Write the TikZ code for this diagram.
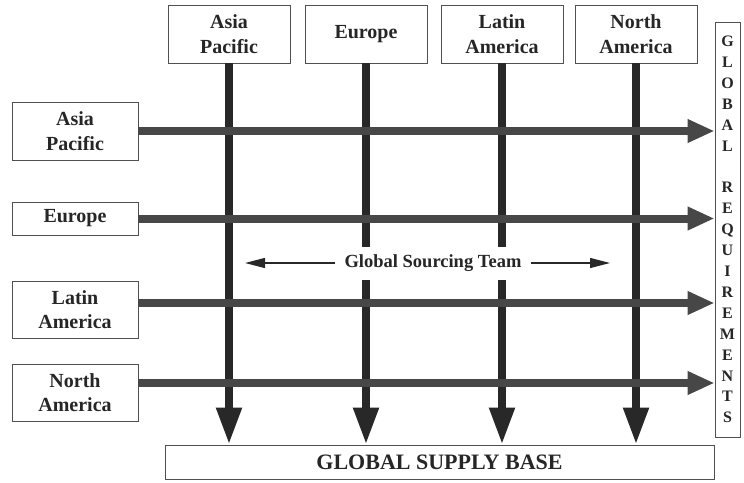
\documentclass[tikz,border=0pt]{standalone}
\usepackage{fontspec}
\setmainfont{Liberation Serif}
\usetikzlibrary{arrows.meta}
\definecolor{vdark}{HTML}{282828}
\definecolor{hgray}{HTML}{474747}
\definecolor{boxline}{HTML}{505050}
\definecolor{txt}{HTML}{262626}
\begin{document}
\begin{tikzpicture}[x=1pt,y=-1pt,
  lbl/.style={draw=boxline, line width=0.9pt, fill=white, text=txt,
    font=\bfseries\fontsize{20}{24.5}\selectfont, align=center, inner sep=0pt},
  grlbl/.style={lbl, font=\bfseries\fontsize{16}{20.9}\selectfont},
  varrow/.style={draw=vdark, line width=8pt, -{Triangle[length=37pt,width=24pt]}},
  harrow/.style={draw=hgray, line width=8pt, -{Triangle[length=27pt,width=22pt]}},
  thinarrow/.style={draw=vdark, line width=1.3pt, -{Triangle[length=20pt,width=10pt]}}]
\useasboundingbox (0,0) rectangle (744,482);
% top regions
\node[lbl, minimum width=122pt, minimum height=58pt] (tap) at (229,34) {Asia\\Pacific};
\node[lbl, minimum width=122pt, minimum height=58pt] (teu) at (366,34) {Europe};
\node[lbl, minimum width=122pt, minimum height=58pt] (tla) at (502,34) {Latin\\America};
\node[lbl, minimum width=122pt, minimum height=58pt] (tna) at (636,34) {North\\America};
% left regions
\node[lbl, minimum width=126pt, minimum height=58pt] (lap) at (75,131) {Asia\\Pacific};
\node[lbl, minimum width=126pt, minimum height=33pt] (leu) at (75,218.5) {Europe};
\node[lbl, minimum width=126pt, minimum height=57pt] (lla) at (75,309.5) {Latin\\America};
\node[lbl, minimum width=126pt, minimum height=57pt] (lna) at (75,392.5) {North\\America};
% right and bottom
\node[grlbl, minimum width=25pt, minimum height=415pt] (gr) at (727.5,229.5)
  {G\\L\\O\\B\\A\\L\\[20.9pt]R\\E\\Q\\U\\I\\R\\E\\M\\E\\N\\T\\S};
\node[lbl, minimum width=549pt, minimum height=34pt, font=\bfseries\fontsize{22}{26}\selectfont] (gsb) at (439.5,462) {GLOBAL SUPPLY BASE};
% vertical arrows
\draw[varrow] (tap.south) -- (tap.south |- gsb.north);
\draw[varrow] (teu.south) -- (teu.south |- gsb.north);
\draw[varrow] (tla.south) -- (tla.south |- gsb.north);
\draw[varrow] (tna.south) -- (tna.south |- gsb.north);
% horizontal arrows
\draw[harrow] (lap.east) -- (lap.east -| gr.west);
\draw[harrow] (leu.east) -- (leu.east -| gr.west);
\draw[harrow] ([yshift=6.5pt]lla.east) -- ([yshift=6.5pt]lla.east -| gr.west);
\draw[harrow] ([yshift=9.5pt]lna.east) -- ([yshift=9.5pt]lna.east -| gr.west);
% sourcing team
\node[text=txt, fill=white, font=\bfseries\fontsize{18.5}{24}\selectfont, inner xsep=4pt, inner ysep=0pt, minimum height=33pt] (gst) at (433,263) {Global Sourcing Team};
\coordinate (gstl) at (245,263);
\coordinate (gstr) at (610,263);
\draw[thinarrow] ([xshift=-5pt]gst.west) -- (gstl);
\draw[thinarrow] ([xshift=5pt]gst.east) -- (gstr);
\end{tikzpicture}
\end{document}
